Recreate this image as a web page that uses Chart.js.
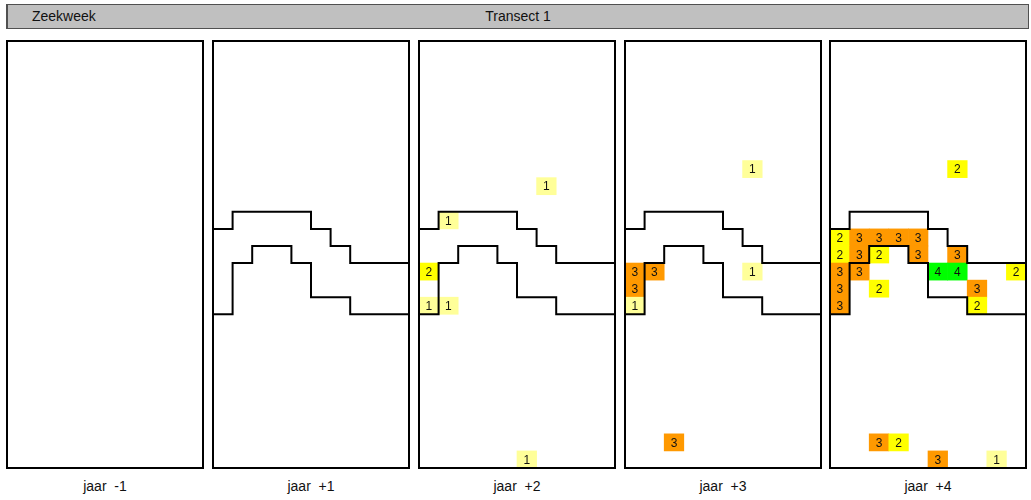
<!DOCTYPE html>
<html>
<head>
<meta charset="utf-8">
<script src="https://cdn.jsdelivr.net/npm/chart.js@4/dist/chart.umd.min.js"></script>
<style>
  body { margin: 0; background: #fff; font-family: Arial, "Liberation Sans", sans-serif; }
  #page { position: relative; width: 1031px; height: 500px; overflow: hidden; }
  #header {
    position: absolute; left: 6px; top: 4px; width: 1020px; height: 23px;
    background: #c0c0c0; border: 1px solid #505050; border-left-width: 2px;
    font-size: 14px; line-height: 23px; color: #111;
  }
  #header .left { position: absolute; left: 24px; }
  #header .mid { position: absolute; left: 0; right: 0; text-align: center; }
  .panel { position: absolute; top: 39px; width: 200px; height: 431px; }
  .panel canvas { display: block; }
  .label { position: absolute; top: 478px; width: 196px; text-align: center;
    font-size: 14px; color: #111; white-space: pre; }
</style>
</head>
<body>
<div id="page">
  <div id="header"><span class="mid">Transect 1</span><span class="left">Zeekweek</span></div>
</div>
<script>
// grid: 10 columns x 25 rows per panel, rows counted from top
const columns = ['0', '1', '2', '3', '4', '5', '6', '7', '8', '9'];
const rowCount = 25;
const panelTitles = ['jaar  -1', 'jaar  +1', 'jaar  +2', 'jaar  +3', 'jaar  +4'];
const panelLeft = [7, 213, 419, 625, 830];

// cells: [column, row, score]
const cellsMin1 = [];
const cellsPlus1 = [];
const cellsPlus2 = [[6, 8, 1], [1, 10, 1], [0, 13, 2], [0, 15, 1], [1, 15, 1], [5, 24, 1]];
const cellsPlus3 = [[6, 7, 1], [0, 13, 3], [1, 13, 3], [6, 13, 1], [0, 14, 3], [0, 15, 1], [2, 23, 3]];
const cellsPlus4 = [
  [6, 7, 2],
  [0, 11, 2], [1, 11, 3], [2, 11, 3], [3, 11, 3], [4, 11, 3],
  [0, 12, 2], [1, 12, 3], [2, 12, 2], [4, 12, 3], [6, 12, 3],
  [0, 13, 3], [1, 13, 3], [5, 13, 4], [6, 13, 4], [9, 13, 2],
  [0, 14, 3], [2, 14, 2], [7, 14, 3],
  [0, 15, 3], [7, 15, 2],
  [2, 23, 3], [3, 23, 2], [5, 24, 3], [8, 24, 1]
];
const panelCells = [cellsMin1, cellsPlus1, cellsPlus2, cellsPlus3, cellsPlus4];

// contour lines (column edge, row edge)
const upperX = [0, 1, 1, 5, 5, 6, 6, 7, 7, 10];
const upperY = [11, 11, 10, 10, 11, 11, 12, 12, 13, 13];
const lowerX = [0, 1, 1, 2, 2, 4, 4, 5, 5, 7, 7, 10];
const lowerY = [16, 16, 13, 13, 12, 12, 13, 13, 15, 15, 16, 16];
const showLines = [false, true, true, true, true];

const scoreColors = { 1: '#ffff99', 2: '#ffff00', 3: '#ff9900', 4: '#00ff00' };

const framePlugin = {
  id: 'frame',
  afterDraw(chart) {
    const { ctx, chartArea: a } = chart;
    ctx.save();
    ctx.strokeStyle = '#000';
    ctx.lineWidth = 2;
    ctx.strokeRect(a.left, a.top, a.right - a.left, a.bottom - a.top);
    ctx.restore();
  }
};

const cellTextPlugin = {
  id: 'cellText',
  afterDatasetsDraw(chart) {
    const meta = chart.getDatasetMeta(0);
    const ds = chart.data.datasets[0];
    const ctx = chart.ctx;
    ctx.save();
    ctx.font = '12px Arial, "Liberation Sans", sans-serif';
    ctx.fillStyle = '#111';
    ctx.textAlign = 'center';
    ctx.textBaseline = 'middle';
    meta.data.forEach((bar, i) => {
      const p = bar.getCenterPoint();
      ctx.fillText(String(ds.data[i].v), p.x, p.y + 1);
    });
    ctx.restore();
  }
};

const toPoints = (xs, ys) => xs.map((x, i) => ({ x: x, y: ys[i] }));

const page = document.getElementById('page');

panelCells.forEach((cells, p) => {
  const wrap = document.createElement('div');
  wrap.className = 'panel';
  wrap.style.left = (panelLeft[p] - 2) + 'px';
  const canvas = document.createElement('canvas');
  canvas.width = 200;
  canvas.height = 431;
  wrap.appendChild(canvas);
  page.appendChild(wrap);

  const label = document.createElement('div');
  label.className = 'label';
  label.style.left = panelLeft[p] + 'px';
  label.textContent = panelTitles[p];
  page.appendChild(label);

  const datasets = [{
    type: 'bar',
    order: 2,
    grouped: false,
    data: cells.map(c => ({ x: columns[c[0]], y: [c[1], c[1] + 1], v: c[2] })),
    backgroundColor: cells.map(c => scoreColors[c[2]]),
    borderWidth: 0,
    barPercentage: 1,
    categoryPercentage: 1
  }];
  if (showLines[p]) {
    [toPoints(upperX, upperY), toPoints(lowerX, lowerY)].forEach(pts => {
      datasets.push({
        type: 'line',
        order: 1,
        xAxisID: 'x2',
        data: pts,
        borderColor: '#000',
        borderWidth: 2,
        pointRadius: 0,
        tension: 0,
        fill: false
      });
    });
  }

  new Chart(canvas, {
    type: 'bar',
    data: { labels: columns, datasets: datasets },
    options: {
      responsive: false,
      maintainAspectRatio: false,
      animation: false,
      devicePixelRatio: 1,
      layout: { padding: 2 },
      plugins: { legend: { display: false }, tooltip: { enabled: false } },
      scales: {
        x: { type: 'category', offset: true, display: false, grid: { display: false } },
        x2: { type: 'linear', axis: 'x', position: 'bottom', offset: false, min: 0, max: 10, display: false },
        y: { type: 'linear', min: 0, max: rowCount, reverse: true, display: false }
      }
    },
    plugins: [framePlugin, cellTextPlugin]
  });
});
</script>
</body>
</html>
